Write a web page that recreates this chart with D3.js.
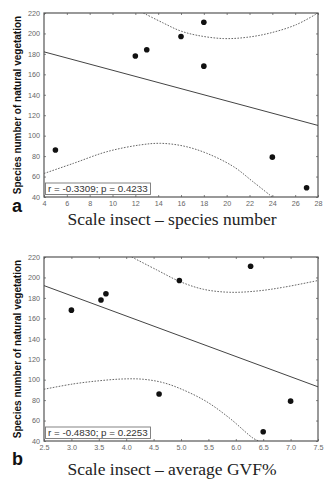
<!DOCTYPE html>
<html><head><meta charset="utf-8">
<script src="https://cdn.jsdelivr.net/npm/d3@7"></script>
<style>
html,body{margin:0;padding:0;background:#fff;}
svg{display:block;}
</style></head>
<body>
<svg id="chart" width="327" height="481"></svg>
<script>
// ---- data ----
const yTicks = [40,60,80,100,120,140,160,180,200,220];

// panel a
const xTicksA = [4,6,8,10,12,14,16,18,20,22,24,26,28];
const ptsAx = [5,12,13,16,18,18,24,27];
const ptsAy = [86,178,184,197,211,168,79,49];
const fitAx = [4,28];
const fitAy = [182,110];
const upAx = [12.7,14.45,15.9,17.4,19.7,21.75,23.8,26.1,28];
const upAy = [220,210.2,202.7,198.2,195,196.2,200.4,208.6,220];
const loAx = [4,6.6,9.5,12.4,14.2,16.2,18.25,20.6,22.3,24];
const loAy = [63,73,84.3,90.9,92.5,89.9,82.8,69.7,55,40];
const statA = "r = -0.3309; p = 0.4233";
const titleA = "Scale insect \u2013 species number";

// panel b
const xTicksB = [2.5,3.0,3.5,4.0,4.5,5.0,5.5,6.0,6.5,7.0,7.5];
const ptsBx = [3.0,3.54,3.63,4.97,6.27,4.6,6.5,7.0];
const ptsBy = [168,178,184,197,211,86,49,79];
const fitBx = [2.5,7.5];
const fitBy = [192,93];
const upBx = [4.1,4.56,4.98,5.41,5.89,6.38,6.87,7.5];
const upBy = [220,207.3,196,188.4,185.5,186.7,190.4,197];
const loBx = [2.5,3.03,3.52,3.95,4.31,4.68,5.04,5.47,5.89,6.32,6.42];
const loBy = [90.6,95.8,99,100.7,100.4,97,90,78.4,62.2,42.6,40];
const statB = "r = -0.4830; p = 0.2253";
const titleB = "Scale insect \u2013 average GVF%";

const yTitle = "Species number of natural vegetation";

// ---- drawing ----
const svg = d3.select("#chart");
const L = 44, R = 318, H = 184;

function panel(opt){
  const top = opt.top;
  const x = d3.scaleLinear().domain(opt.xDomain).range([L, R]);
  const y = d3.scaleLinear().domain([40,220]).range([top+H, top]);
  const g = svg.append("g");
  const cid = "clip"+opt.letter;
  svg.append("clipPath").attr("id", cid).append("rect")
    .attr("x", L).attr("y", top).attr("width", R-L).attr("height", H);

  const fmt = opt.fmt;
  g.append("g").attr("transform",`translate(0,${top+H})`)
    .call(d3.axisBottom(x).tickValues(opt.xTicks).tickFormat(fmt).tickSize(-2).tickPadding(4));
  g.append("g").attr("transform",`translate(${L},0)`)
    .call(d3.axisLeft(y).tickValues(yTicks).tickSize(-2).tickPadding(4));
  g.append("g").attr("transform",`translate(0,${top})`)
    .call(d3.axisTop(x).tickValues(opt.xTicks).tickFormat("").tickSize(-2));
  g.append("g").attr("transform",`translate(${R},0)`)
    .call(d3.axisRight(y).tickValues(yTicks).tickFormat("").tickSize(-2));
  g.selectAll(".domain").remove();
  g.selectAll(".tick line").attr("stroke","#666").attr("stroke-width",0.8);
  g.selectAll(".tick text").attr("fill","#666")
    .style("font-family","'Liberation Sans', Arial, sans-serif").style("font-size","7.2px");

  // frame
  g.append("rect").attr("x",L).attr("y",top).attr("width",R-L).attr("height",H)
    .attr("fill","none").attr("stroke","#555").attr("stroke-width",1.2);

  const plot = g.append("g").attr("clip-path",`url(#${cid})`);
  const line = d3.line().x(d=>x(d[0])).y(d=>y(d[1])).curve(d3.curveCatmullRom);
  [[opt.upX,opt.upY],[opt.loX,opt.loY]].forEach(([xs,ys])=>{
    plot.append("path").datum(xs.map((v,i)=>[v,ys[i]]))
      .attr("d",line).attr("fill","none").attr("stroke","#555")
      .attr("stroke-width",0.9).attr("stroke-dasharray","1.6,1.4");
  });
  plot.append("path").datum(opt.fitX.map((v,i)=>[v,opt.fitY[i]]))
    .attr("d",d3.line().x(d=>x(d[0])).y(d=>y(d[1])))
    .attr("fill","none").attr("stroke","#444").attr("stroke-width",1);

  plot.selectAll("circle.pt").data(opt.px.map((v,i)=>[v,opt.py[i]])).join("circle")
    .attr("class","pt").attr("cx",d=>x(d[0])).attr("cy",d=>y(d[1])).attr("r",2.8).attr("fill","#111");

  // stat box
  g.append("rect").attr("x",L+1.5).attr("y",top+H-14).attr("width",105).attr("height",11.5)
    .attr("fill","#fff").attr("stroke","#777").attr("stroke-width",0.9);
  g.append("text").attr("x",L+4).attr("y",top+H-5.2).text(opt.stat)
    .attr("fill","#333").style("font-family","'Liberation Sans', Arial, sans-serif").style("font-size","9.8px");

  // y title
  g.append("text").attr("transform",`translate(20.5,${top+H/2}) rotate(-90)`)
    .attr("text-anchor","middle").text(yTitle).attr("fill","#111")
    .style("font-family","'Liberation Sans', Arial, sans-serif").style("font-weight","bold").style("font-size","10px");

  // panel letter
  g.append("text").attr("x",12).attr("y",opt.letterY).text(opt.letter).attr("fill","#111")
    .style("font-family","'Liberation Sans', Arial, sans-serif").style("font-weight","bold").style("font-size","18px");

  // x title
  g.append("text").attr("x",172).attr("y",opt.titleY).attr("text-anchor","middle").text(opt.title)
    .attr("fill","#222").style("font-family","'Liberation Serif', 'Times New Roman', serif").style("font-size","17.5px");
}

panel({top:13, xDomain:[4,28], xTicks:xTicksA, fmt:d3.format("d"),
  px:ptsAx, py:ptsAy, fitX:fitAx, fitY:fitAy, upX:upAx, upY:upAy, loX:loAx, loY:loAy,
  stat:statA, letter:"a", letterY:212, title:titleA, titleY:224.5});
panel({top:257, xDomain:[2.5,7.5], xTicks:xTicksB, fmt:d3.format(".1f"),
  px:ptsBx, py:ptsBy, fitX:fitBx, fitY:fitBy, upX:upBx, upY:upBy, loX:loBx, loY:loBy,
  stat:statB, letter:"b", letterY:465, title:titleB, titleY:475});
</script>
</body></html>
